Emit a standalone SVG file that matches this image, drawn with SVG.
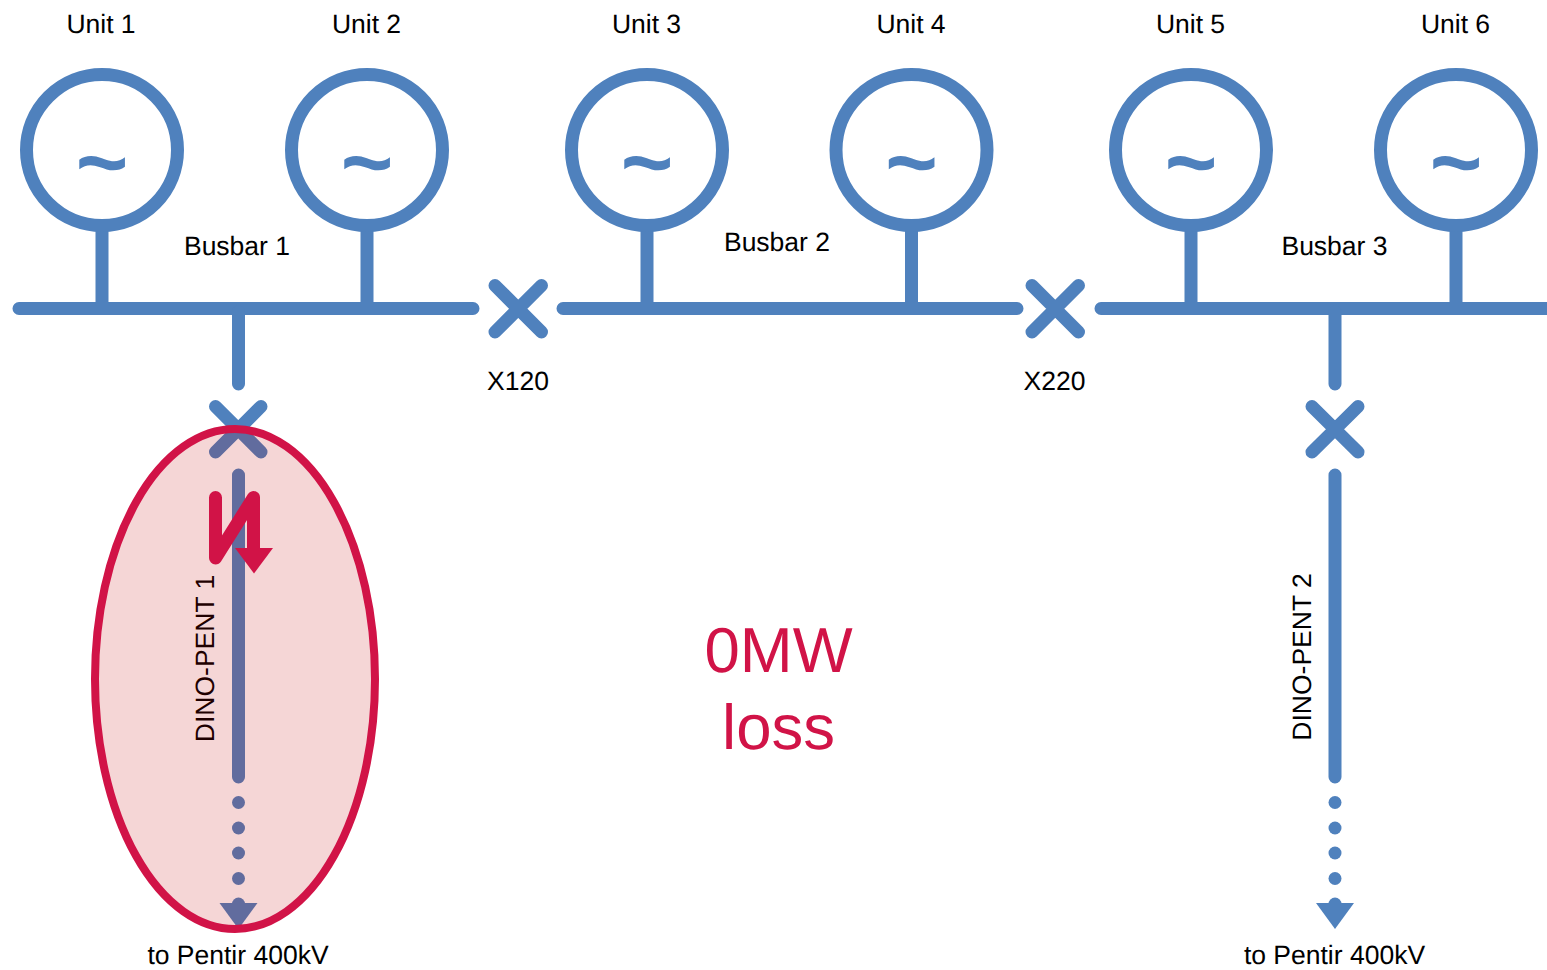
<svg xmlns="http://www.w3.org/2000/svg" width="1547" height="970" viewBox="0 0 1547 970">
<style>
text{text-rendering:geometricPrecision}
.l{fill:none;stroke:#4f81bd;stroke-width:13;stroke-linecap:round}
.g{fill:none;stroke:#4f81bd;stroke-width:13}
.t{font-family:"Liberation Sans",Arial,sans-serif;font-size:26.500px;fill:#000;text-anchor:middle}
.s{font-family:"Liberation Sans",Arial,sans-serif;font-weight:bold;font-size:90px;fill:#4f81bd;text-anchor:middle}
.r{font-family:"Liberation Sans",Arial,sans-serif;font-size:63.500px;fill:#d11347;text-anchor:middle}
.d{fill:#4f81bd}
</style>
<rect width="1547" height="970" fill="#fff"/>
<g id="connectors">
<path class="l" d="M19 308.500H473M563 308.500H1017M1101 308.500H1553"/>
<path class="g" d="M102 226V305M367 226V305M647 226V305M911.500 226V305M1191 226V305M1456 226V305"/>
<path class="l" d="M238.500 312V384M1335 312V384"/>
<path class="l" d="M238.500 475V777M1335 475V777"/>
<g class="d">
<circle cx="238.500" cy="802.500" r="6.500"/><circle cx="238.500" cy="828" r="6.500"/><circle cx="238.500" cy="853" r="6.500"/><circle cx="238.500" cy="878.500" r="6.500"/><circle cx="238.500" cy="904" r="6.500"/>
<polygon points="219.500,903 257.500,903 238.500,929"/>
<circle cx="1335" cy="802.500" r="6.500"/><circle cx="1335" cy="828" r="6.500"/><circle cx="1335" cy="853" r="6.500"/><circle cx="1335" cy="878.500" r="6.500"/><circle cx="1335" cy="904" r="6.500"/>
<polygon points="1316,903 1354,903 1335,929"/>
</g>
</g>
<g id="unit1"><circle class="g" cx="102" cy="150" r="75.500"/><text class="s" x="102" y="193">~</text><text class="t" x="101" y="33">Unit 1</text></g>
<g id="unit2"><circle class="g" cx="367" cy="150" r="75.500"/><text class="s" x="367" y="193">~</text><text class="t" x="366.500" y="33">Unit 2</text></g>
<g id="unit3"><circle class="g" cx="647" cy="150" r="75.500"/><text class="s" x="647" y="193">~</text><text class="t" x="646.500" y="33">Unit 3</text></g>
<g id="unit4"><circle class="g" cx="911.500" cy="150" r="75.500"/><text class="s" x="911.500" y="193">~</text><text class="t" x="911" y="33">Unit 4</text></g>
<g id="unit5"><circle class="g" cx="1191" cy="150" r="75.500"/><text class="s" x="1191" y="193">~</text><text class="t" x="1190.500" y="33">Unit 5</text></g>
<g id="unit6"><circle class="g" cx="1456" cy="150" r="75.500"/><text class="s" x="1456" y="193">~</text><text class="t" x="1455.500" y="33">Unit 6</text></g>
<g id="busbar1"><text class="t" x="237" y="255">Busbar 1</text></g>
<g id="busbar2"><text class="t" x="777" y="251">Busbar 2</text></g>
<g id="busbar3"><text class="t" x="1334.500" y="255">Busbar 3</text></g>
<g id="x120"><path class="l" d="M495 285.500L541.500 332M541.500 285.500L495 332"/><text class="t" x="518" y="390">X120</text></g>
<g id="x220"><path class="l" d="M1032 285.500L1078.500 332M1078.500 285.500L1032 332"/><text class="t" x="1054.500" y="390">X220</text></g>
<g id="breaker1"><path class="l" d="M215.500 406.500L261 452M261 406.500L215.500 452"/></g>
<g id="breaker2"><path class="l" d="M1312 406.500L1358 452M1358 406.500L1312 452"/></g>
<g id="feeder1"><text class="t" transform="translate(214 658.500) rotate(-90)">DINO-PENT 1</text><text class="t" x="238" y="964">to Pentir 400kV</text></g>
<g id="feeder2"><text class="t" transform="translate(1310.500 657) rotate(-90)">DINO-PENT 2</text><text class="t" x="1334.500" y="964">to Pentir 400kV</text></g>
<g id="fault-zone"><ellipse cx="235" cy="679" rx="140" ry="250" fill="#c00000" fill-opacity=".16" stroke="#d11347" stroke-width="8"/></g>
<g id="fault"><path d="M215.500 497.500V558L253.500 497.500V556" fill="none" stroke="#d11347" stroke-width="13" stroke-linecap="round" stroke-linejoin="round"/><polygon points="235,548 273,548 254,573.500" fill="#d11347"/></g>
<g id="loss"><text class="r" x="778.500" y="672">0MW</text><text class="r" x="778.500" y="749">loss</text></g>
</svg>
